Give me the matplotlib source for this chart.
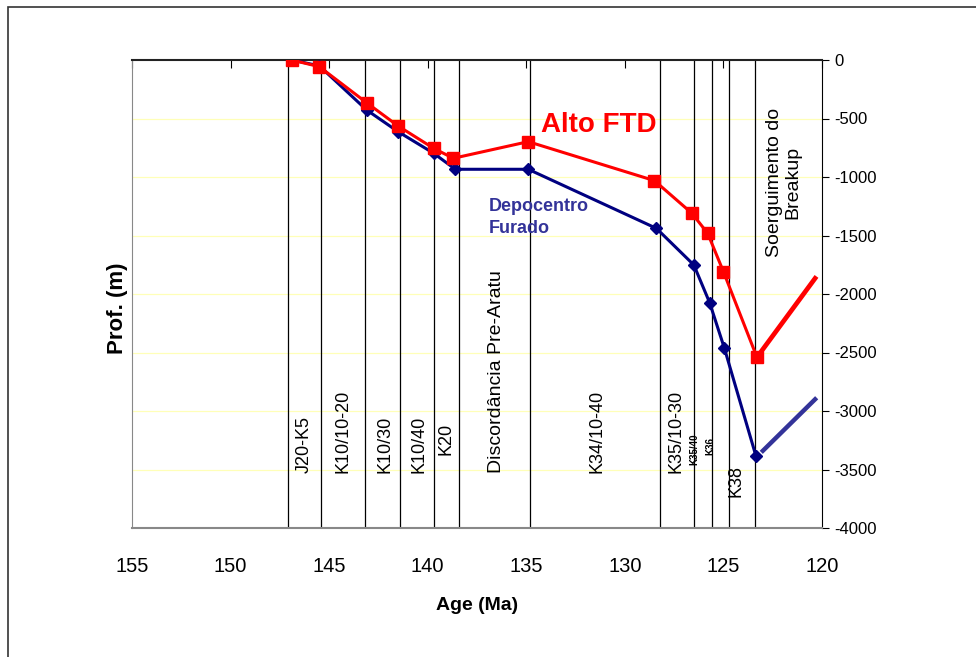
import matplotlib.pyplot as plt
from matplotlib.patches import Rectangle

plt.rcParams["axes.unicode_minus"] = False

# idades das discordancias / limites (Ma)
limites = [147.1, 145.4, 143.2, 141.4, 139.7, 138.4, 134.8, 128.2, 126.5, 125.6, 124.7, 123.4]

# rotulos verticais: (idade, profundidade da base, texto, tamanho)
rotulos = [
    (146.25, -3530, "J20-K5", 13),
    (144.3, -3530, "K10/10-20", 13),
    (142.15, -3530, "K10/30", 13),
    (140.45, -3530, "K10/40", 13),
    (139.05, -3380, "K20", 13),
    (136.5, -3530, "Discordância Pre-Aratu", 14),
    (131.4, -3530, "K34/10-40", 13),
    (127.4, -3530, "K35/10-30", 13),
    (126.45, -3460, "K35/40", 7),
    (125.65, -3380, "K36", 7),
    (124.35, -3735, "K38", 13),
]

# Alto FTD
idade_alto = [146.9, 145.5, 143.1, 141.5, 139.7, 138.7, 134.9, 128.5, 126.6, 125.8, 125.0, 123.3]
prof_alto = [0, -57, -365, -564, -755, -840, -698, -1031, -1310, -1481, -1809, -2541]
soerg_alto_x = [123.3, 120.35]
soerg_alto_y = [-2541, -1866]

# Depocentro Furado
idade_depo = [146.9, 145.5, 143.1, 141.5, 139.7, 138.6, 134.9, 128.4, 126.5, 125.7, 124.95, 123.35]
prof_depo = [0, -50, -427, -613, -797, -934, -934, -1439, -1752, -2074, -2464, -3385]
soerg_depo_x = [123.0, 120.35]
soerg_depo_y = [-3340, -2900]

fig = plt.figure(figsize=(9.76, 6.57), dpi=100)
ax = fig.add_axes([132 / 976, 1 - 528 / 657, 690 / 976, 468 / 657])

# moldura da figura
fig.patches.append(Rectangle((8 / 976, -0.05), 1.05, 1 - 7 / 657 + 0.05, transform=fig.transFigure,
                             fill=False, edgecolor="#333333", linewidth=1.2))

for y in range(-3500, 0, 500):
    ax.axhline(y, color="#ffffb8", linewidth=0.9, zorder=0)

for x in limites:
    ax.axvline(x, color="black", linewidth=0.9, zorder=1)

for x, y, txt, sz in rotulos:
    ax.text(x, y, txt, rotation=90, ha="center", va="bottom", fontsize=sz,
            family="Liberation Sans", fontweight="bold" if sz < 10 else "normal")

ax.text(121.95, -1684, "Soerguimento do\nBreakup", rotation=90, ha="center", va="bottom",
        fontsize=14, family="Liberation Sans", linespacing=1.05, multialignment="center")

ax.plot(idade_depo, prof_depo, color="#000080", linewidth=2.2, marker="D", markersize=6, zorder=3)
ax.plot(soerg_depo_x, soerg_depo_y, color="#333399", linewidth=3.2, zorder=3)
ax.plot(idade_alto, prof_alto, color="#ff0000", linewidth=2.2, marker="s", markersize=8.5, zorder=4)
ax.plot(soerg_alto_x, soerg_alto_y, color="#ff0000", linewidth=3.4, zorder=4)

ax.text(134.25, -556, "Alto FTD", color="#ff0000", fontsize=20, fontweight="bold",
        family="Liberation Sans", va="center", ha="left")
ax.text(136.9, -1180, "Depocentro\nFurado", color="#333399", fontsize=13, fontweight="bold",
        family="Liberation Sans", va="top", ha="left", linespacing=1.4)

ax.set_xlim(155, 120)
ax.set_ylim(-4000, 0)
ax.set_xticks(range(155, 119, -5))
ax.set_yticks(range(-4000, 1, 500))

ax.yaxis.tick_right()
ax.tick_params(axis="y", direction="out", length=5, labelsize=12, pad=4)
ax.tick_params(axis="x", top=True, bottom=False, labeltop=False, labelbottom=True,
               direction="in", length=6, pad=21)
for lab in ax.get_xticklabels():
    lab.set_family("Liberation Sans")
    lab.set_fontsize(14.5)
for lab in ax.get_yticklabels():
    lab.set_family("Liberation Sans")

ax.spines["left"].set_color("#888888")
ax.spines["bottom"].set_color("#888888")
ax.spines["bottom"].set_linewidth(1.5)
ax.spines["top"].set_color("#222222")
ax.spines["top"].set_linewidth(1.5)
ax.spines["right"].set_color("black")

ax.set_xlabel("Age (Ma)", fontsize=14, fontweight="bold", family="Liberation Sans", labelpad=15)
fig.text(118 / 976, 1 - 308 / 657, "Prof. (m)", rotation=90, ha="center", va="center",
         fontsize=16, fontweight="bold", family="Liberation Sans")

fig.savefig("out.png", dpi=100)
